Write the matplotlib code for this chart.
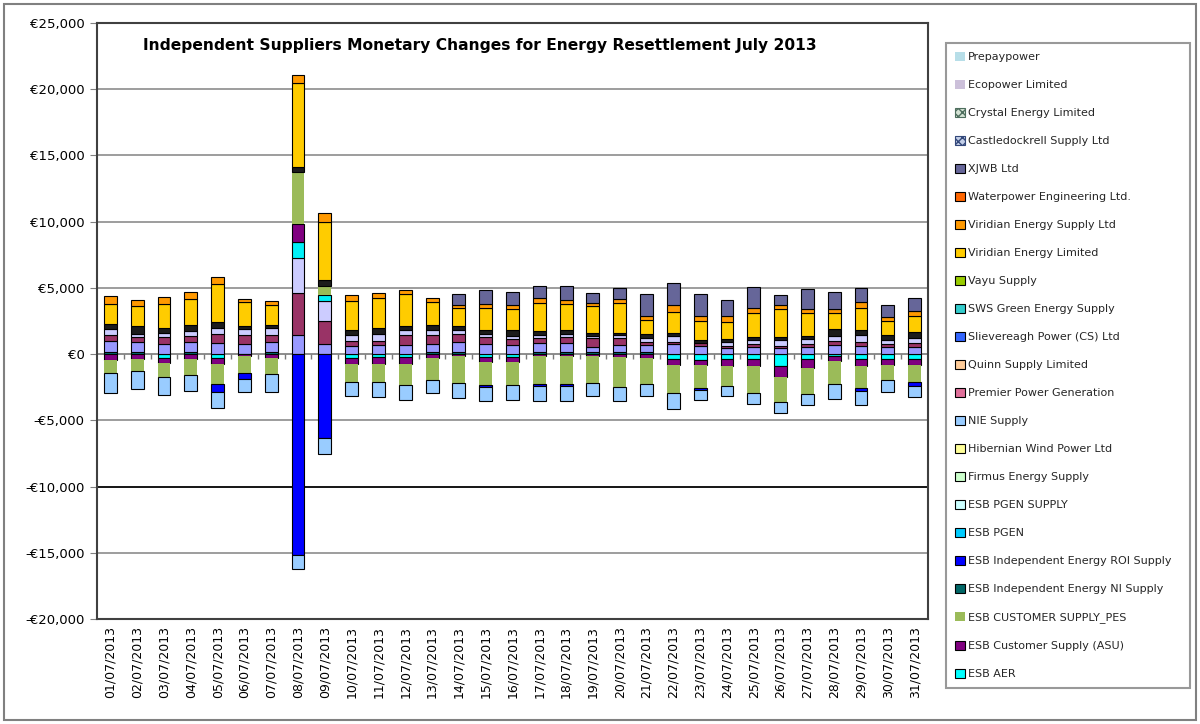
import numpy as np
import matplotlib
matplotlib.use("Agg")
import matplotlib.pyplot as plt
from matplotlib.patches import Patch, Rectangle

dates = ["%02d/07/2013" % d for d in range(1, 32)]

# stacked series in drawing order (positive values stack upward, negative downward)
esb_aer = [0, 0, -300, 0, -300, 0, 0, 0, 0, -300, -250, -250, 0, 0, -230, -230,
           0, 0, 0, 0, 0, -380, -450, -380, -380, -900, -380, -150, -380, -380, -380]
esb_ie_ni = [150, 150, 0, 150, 0, 0, 150, 0, 0, 0, 0, 0, 150, 150, 0, 0,
             150, 150, 150, 150, 150, 0, 0, 0, 0, 0, 0, 0, 0, 0, 0]
slievereagh = [830, 750, 750, 750, 830, 800, 750, 1430, 750, 600, 680, 680, 600, 750, 750, 680,
               680, 680, 380, 530, 530, 750, 600, 450, 530, 450, 530, 680, 600, 530, 530]
premier = [450, 400, 530, 450, 680, 680, 530, 3170, 1730, 380, 300, 750, 680, 600, 530, 450,
           380, 450, 680, 530, 230, 200, 230, 150, 230, 150, 230, 300, 300, 230, 300]
ecopower = [450, 250, 300, 380, 450, 380, 530, 2640, 1500, 450, 530, 380, 380, 300, 230, 230,
            230, 230, 150, 230, 300, 450, 0, 300, 300, 450, 380, 380, 530, 300, 380]
esb_pgen = [0, 0, 0, 0, 0, 0, 0, 1200, 500, 0, 0, 0, 0, 0, 0, 0,
            0, 0, 0, 0, 0, 0, 0, 0, 0, 0, 0, 0, 0, 0, 0]
esb_asu = [-450, -350, -380, -350, -450, -150, -300, 1360, 0, -450, -530, -530, -300, -150, -380, -380,
           -150, -150, -150, -200, -300, -450, -380, -530, -530, -830, -680, -380, -530, -450, -450]
esb_pes = [-1000, -900, -1050, -1200, -1500, -1250, -1200, 3920, 680, -1350, -1350, -1580, -1650, -2000, -1730, -1730,
           -2100, -2100, -2000, -2260, -1950, -2100, -1730, -1500, -2030, -1880, -1960, -1730, -1660, -1130, -1280]
castledockrell = [380, 600, 380, 450, 450, 300, 230, 380, 450, 380, 450, 300, 380, 300, 300, 450,
                  300, 300, 230, 150, 300, 230, 230, 230, 230, 230, 230, 530, 380, 380, 450]
viridian_ltd = [1500, 1500, 1800, 1950, 2900, 1800, 1500, 6400, 4350, 2200, 2260, 2450, 1730, 1360, 1650, 1580,
                2100, 1960, 2030, 2260, 1050, 1580, 1430, 1280, 1800, 2100, 1730, 1200, 1660, 1050, 1200]
viridian_supply = [600, 450, 530, 530, 530, 200, 300, 600, 680, 450, 380, 300, 300, 230, 300, 300,
                   380, 300, 230, 300, 300, 530, 380, 450, 380, 300, 300, 300, 450, 300, 380]
xjwb = [0, 0, 0, 0, 0, 0, 0, 0, 0, 0, 0, 0, 0, 830, 1100, 980,
        900, 1100, 750, 830, 1650, 1650, 1700, 1200, 1580, 750, 1500, 1300, 1050, 900, 1000]
esb_ie_roi = [0, 0, 0, 0, -600, -500, 0, -15150, -6330, 0, 0, 0, 0, 0, -150, 0,
              -150, -150, 0, 0, 0, 0, -150, 0, 0, 0, 0, 0, -230, 0, -300]
nie_supply = [-1500, -1400, -1350, -1200, -1250, -950, -1350, -1050, -1200, -1100, -1100, -1100, -1000, -1150, -1050, -1130,
              -1130, -1130, -1000, -1050, -950, -1200, -750, -750, -830, -850, -830, -1130, -1050, -900, -830]

stack = [
    (esb_aer, "#00FFFF"),
    (esb_ie_ni, "#007C7C"),
    (slievereagh, "#9999FF"),
    (premier, "#993366"),
    (ecopower, "#CCCCFF"),
    (esb_pgen, "#00F0F8"),
    (esb_asu, "#800080"),
    (esb_pes, "#9BBB59"),
    (castledockrell, "#1C1C1C"),
    (viridian_ltd, "#FFCC00"),
    (viridian_supply, "#FF9900"),
    (xjwb, "#666699"),
    (esb_ie_roi, "#0000FF"),
    (nie_supply, "#99CCFF"),
]

legend_names = ["Prepaypower", "Ecopower Limited", "Crystal Energy Limited", "Castledockrell Supply Ltd",
                "XJWB Ltd", "Waterpower Engineering Ltd.", "Viridian Energy Supply Ltd", "Viridian Energy Limited",
                "Vayu Supply", "SWS Green Energy Supply", "Slievereagh Power (CS) Ltd", "Quinn Supply Limited",
                "Premier Power Generation", "NIE Supply", "Hibernian Wind Power Ltd", "Firmus Energy Supply",
                "ESB PGEN SUPPLY", "ESB PGEN", "ESB Independent Energy ROI Supply",
                "ESB Independent Energy NI Supply", "ESB CUSTOMER SUPPLY_PES", "ESB Customer Supply (ASU)", "ESB AER"]
legend_colors = ["#B7DEE8", "#CCC0DA", "#D5E3D5", "#C3CFE8", "#666699", "#FF6600", "#FF9900", "#FFCC00",
                 "#99CC00", "#33CCCC", "#3366FF", "#FFCC99", "#E0709A", "#99CCFF", "#FFFF99", "#CCFFCC",
                 "#CCFFFF", "#00CCFF", "#0000FF", "#006666", "#9BBB59", "#800080", "#00FFFF"]

fig = plt.figure(figsize=(12, 7.24), dpi=100)
ax = fig.add_axes([97 / 1200, 105 / 724, 831 / 1200, 596 / 724])

x = np.arange(len(dates))
pos = np.zeros(len(dates))
neg = np.zeros(len(dates))
for vals, col in stack:
    v = np.array(vals, dtype=float)
    bottom = np.where(v >= 0, pos, neg)
    m = v != 0
    edge = "none" if col == "#9BBB59" else "black"
    ax.bar(x[m], v[m], bottom=bottom[m], width=0.48, color=col,
           edgecolor=edge, linewidth=0.8, zorder=3)
    pos += np.where(v > 0, v, 0)
    neg += np.where(v < 0, v, 0)

ax.set_xlim(-0.5, len(dates) - 0.5)
ax.set_ylim(-20000, 25000)
yt = np.arange(-20000, 25001, 5000)
ax.set_yticks(yt)
ax.set_yticklabels([("-€{:,}" if t < 0 else "€{:,}").format(abs(t)) for t in yt], fontsize=9.5)
ax.yaxis.grid(True, color="#8c8c8c", linewidth=1.2)
ax.set_axisbelow(True)
ax.axhline(-10000, color="black", linewidth=1.2, zorder=1)
ax.axhline(0, color="#8c8c8c", linewidth=1.2, zorder=1)
ax.vlines(np.arange(0.5, len(dates) - 0.5, 1), -380, 0, color="#7a7a7a", linewidth=1, zorder=1)

ax.set_xticks(x)
ax.set_xticklabels(dates, rotation=90, fontsize=9)
ax.tick_params(axis="x", length=0, pad=5)
ax.tick_params(axis="y", direction="out", length=5, color="#808080", pad=4)
for s in ax.spines.values():
    s.set_color("#404040")
    s.set_linewidth(1.5)

ax.text(0.461, 0.962, "Independent Suppliers Monetary Changes for Energy Resettlement July 2013",
        transform=ax.transAxes, ha="center", va="center", fontsize=11.2, fontweight="bold")

handles = []
for name, col in zip(legend_names, legend_colors):
    if name in ("Prepaypower", "Ecopower Limited", "ESB CUSTOMER SUPPLY_PES"):
        handles.append(Patch(facecolor=col, edgecolor="none"))
    elif name == "Crystal Energy Limited":
        handles.append(Patch(facecolor=col, edgecolor="#4E6E5E", hatch="xxxx", linewidth=0.8))
    elif name == "Castledockrell Supply Ltd":
        handles.append(Patch(facecolor=col, edgecolor="#33487A", hatch="xxxx", linewidth=0.8))
    else:
        handles.append(Patch(facecolor=col, edgecolor="black", linewidth=0.8))

leg = fig.legend(handles, legend_names, loc="upper left",
                 bbox_to_anchor=(946 / 1200, 1 - 43 / 724, 244 / 1200, 0), mode="expand",
                 fontsize=8, labelspacing=1.58, handlelength=0.9, handleheight=0.9,
                 handletextpad=0.3, borderpad=0.8, borderaxespad=0, fancybox=False)
leg.get_frame().set_edgecolor("#808080")
leg.get_frame().set_linewidth(1.5)
for t in leg.get_texts():
    t.set_color("#262626")

fig.add_artist(Rectangle((4 / 1200, 4 / 724), 1192 / 1200, 716 / 724, transform=fig.transFigure,
                         fill=False, edgecolor="#808080", linewidth=1.5))

fig.savefig("out.png", dpi=100)
